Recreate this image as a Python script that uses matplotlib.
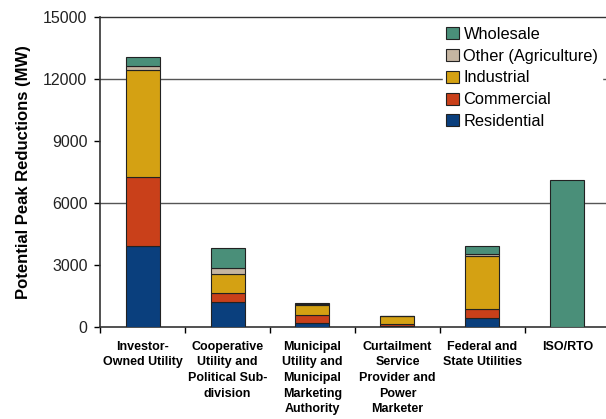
import numpy as np
import matplotlib.pyplot as plt

plt.rcParams['font.family'] = ['Liberation Sans', 'DejaVu Sans']

categories = ['Investor-\nOwned Utility', 'Cooperative\nUtility and\nPolitical Sub-\ndivision',
              'Municipal\nUtility and\nMunicipal\nMarketing\nAuthority',
              'Curtailment\nService\nProvider and\nPower\nMarketer',
              'Federal and\nState Utilities', 'ISO/RTO']
residential = [3900, 1220, 200, 50, 420, 0]
commercial = [3370, 410, 360, 110, 470, 0]
industrial = [5150, 920, 490, 370, 2550, 0]
other = [230, 320, 40, 0, 90, 0]
wholesale = [400, 940, 80, 0, 370, 7100]

series = [('Residential', residential, '#0a3f7d'),
          ('Commercial', commercial, '#c9401a'),
          ('Industrial', industrial, '#d4a113'),
          ('Other (Agriculture)', other, '#c5b5a1'),
          ('Wholesale', wholesale, '#4a8f79')]
yticks = [0, 3000, 6000, 9000, 12000, 15000]
grid_levels = [6000, 12000]

fig = plt.figure(figsize=(6.06, 4.19), dpi=100)
ax = fig.add_axes([100 / 606, 92 / 419, 510 / 606, 310 / 419])

x = np.arange(len(categories))
bottom = np.zeros(len(categories))
handles = []
for name, vals, color in series:
    vals = np.array(vals, dtype=float)
    b = ax.bar(x, vals, 0.4, bottom=bottom, color=color, edgecolor='#222222',
               linewidth=0.8, label=name, zorder=3)
    handles.append(b)
    bottom += vals

for g in grid_levels:
    ax.axhline(g, color='#555555', linewidth=1.0, zorder=1)

ax.set_ylim(0, 15000)
ax.set_xlim(-0.5, len(categories) - 0.5)
ax.set_yticks(yticks)
ax.set_yticklabels([str(v) for v in yticks], fontsize=11.5, color='#222222')
ax.tick_params(axis='y', length=4, width=1, pad=5)

ax.set_xticks(np.arange(len(categories) + 1) - 0.5)
ax.set_xticklabels([])
ax.tick_params(axis='x', which='major', length=4, width=1, direction='out')
ax.set_xticks(x, minor=True)
ax.set_xticklabels(categories, minor=True, fontsize=9, fontweight='bold', linespacing=1.4)
ax.tick_params(axis='x', which='minor', length=0, pad=10)
for lbl in ax.get_xticklabels(minor=True):
    lbl.set_verticalalignment('top')

for s in ['left', 'bottom', 'top']:
    ax.spines[s].set_color('#333333')
    ax.spines[s].set_linewidth(1.2)
ax.spines['top'].set_linewidth(1.0)
ax.spines['right'].set_visible(False)

ax.set_ylabel('Potential Peak Reductions (MW)', fontsize=12, fontweight='bold', labelpad=9)

leg = ax.legend(handles[::-1], [s[0] for s in series][::-1], loc='upper right',
                bbox_to_anchor=(0.99, 0.99), fontsize=11.8, frameon=True, framealpha=1,
                edgecolor='white', handlelength=0.75, handleheight=0.75, handletextpad=0.3,
                labelspacing=0.42, borderpad=0.2, borderaxespad=0.2)
leg.set_zorder(5)

fig.savefig('out.png', dpi=100)
